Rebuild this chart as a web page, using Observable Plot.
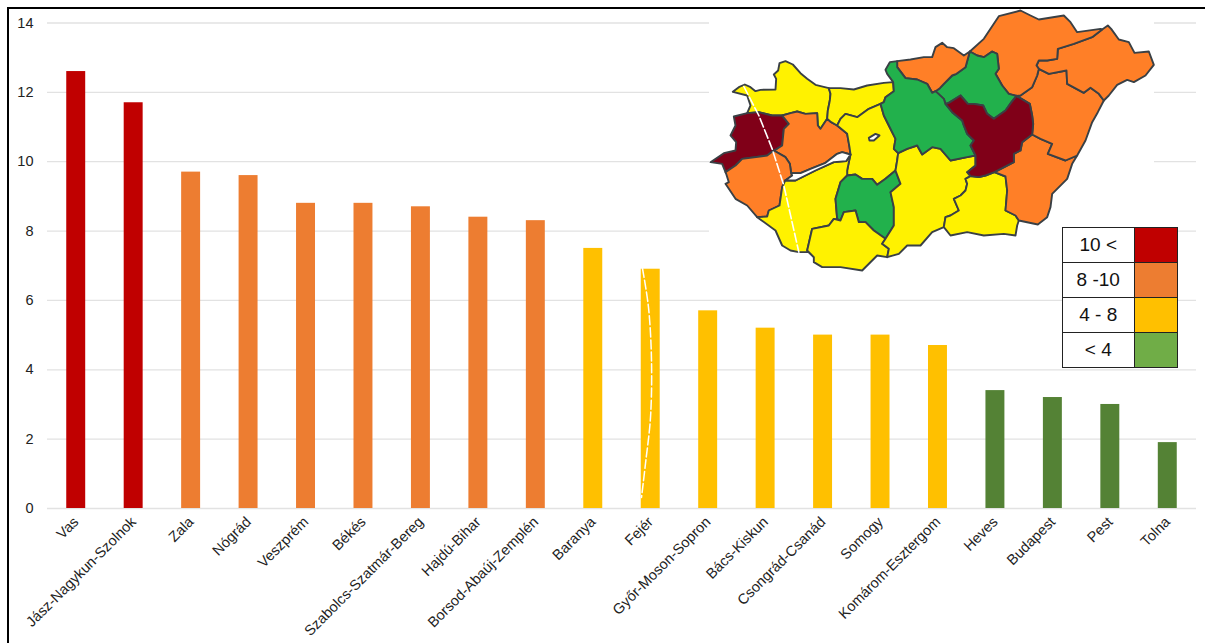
<!DOCTYPE html>
<html><head><meta charset="utf-8">
<script src="https://cdn.jsdelivr.net/npm/d3@7"></script>
<script src="https://cdn.jsdelivr.net/npm/@observablehq/plot@0.6"></script>
<style>
html,body{margin:0;padding:0;background:#fff;width:1205px;height:643px;overflow:hidden}
#wrap{position:relative;width:1205px;height:643px;font-family:"Liberation Sans",Arial,sans-serif}
#wrap>svg,#wrap>div{position:absolute}
#frame{left:7px;top:7px;width:1198px;height:636px;border-left:2px solid #000;border-top:2px solid #000;box-sizing:border-box}
#legend{left:1062px;top:227px;width:115px;height:140px;display:grid;grid-template-columns:72.5px 42.5px;grid-template-rows:repeat(4,35px);background:#fff;font-size:19px;color:#111;box-sizing:border-box}
#legend div{display:flex;align-items:center;justify-content:center;box-sizing:border-box;border:1px solid #222;margin:-.5px}
</style></head><body><div id="wrap"><div id="frame"></div></div>
<script>
const counties=["Vas","Jász-Nagykun-Szolnok","Zala","Nógrád","Veszprém","Békés","Szabolcs-Szatmár-Bereg","Hajdú-Bihar","Borsod-Abaúj-Zemplén","Baranya","Fejér","Győr-Moson-Sopron","Bács-Kiskun","Csongrád-Csanád","Somogy","Komárom-Esztergom","Heves","Budapest","Pest","Tolna"];
const rates=[12.6,11.7,9.7,9.6,8.8,8.8,8.7,8.4,8.3,7.5,6.9,5.7,5.2,5,5,4.7,3.4,3.2,3,1.9];
const barColors=["#C00000","#C00000","#ED7D31","#ED7D31","#ED7D31","#ED7D31","#ED7D31","#ED7D31","#ED7D31","#FFC000","#FFC000","#FFC000","#FFC000","#FFC000","#FFC000","#FFC000","#548235","#548235","#548235","#548235"];
const yTicks=[0,2,4,6,8,10,12,14];
const legendLabels=["10 <","8 -10","4 - 8","< 4"];
const legendColors=["#C00000","#ED7D31","#FFC000","#70AD47"];

// County borders, in map units
const borders={
gyW:[[140,338],[150,315],[140,285],[97,274]],
gyN:[[97,274],[115,260],[133,252],[150,260],[165,272],[180,268],[225,267],[227,235],[220,222],[233,210],[237,188],[255,182],[277,192],[300,218],[320,235],[345,253],[385,263]],
gyKom:[[385,263],[390,280],[388,300],[382,330],[380,355]],
gyVes:[[245,345],[270,338],[290,333],[315,340],[350,338],[352,375],[360,385],[380,355]],
gyVas:[[140,338],[175,335],[215,345],[245,345]],
vasOut:[[140,338],[100,348],[105,375],[90,405],[107,425],[105,450],[70,458],[30,485],[65,490],[75,515]],
vasZala:[[75,515],[105,495],[125,475],[200,465],[220,450]],
vasVes:[[220,450],[230,445],[245,435],[250,385],[265,370],[245,345]],
vesZala:[[220,450],[255,470],[268,490],[272,518]],
vesS:[[272,518],[300,518],[330,505],[375,487],[410,460],[425,455],[450,462]],
vesFej:[[410,375],[440,400],[447,440],[450,462]],
vesKom:[[380,355],[392,365],[410,375]],
komN:[[385,263],[420,263],[460,267],[500,255],[550,247],[578,245]],
komFej:[[410,375],[420,355],[435,340],[470,350],[505,325],[540,310]],
komPest:[[540,310],[550,305],[555,290],[580,272],[578,245]],
fejPest:[[540,310],[550,345],[565,375],[585,415],[580,445],[593,458]],
fejBac:[[593,458],[590,480],[585,510]],
fejTol:[[585,510],[555,535],[530,553],[515,535],[485,535],[465,522],[440,525]],
fejSom:[[440,525],[440,510],[445,485],[450,462]],
zalaLake:[[272,518],[275,525],[254,540]],
zalaSom:[[254,540],[245,560],[237,615],[205,630],[200,648],[170,650]],
zalaOut:[[75,515],[77,520],[85,545],[75,550],[105,595],[140,615],[170,650]],
somN:[[254,540],[285,540],[345,510],[400,485],[437,482],[450,462]],
somOut:[[170,650],[225,690],[245,735],[270,750],[295,755],[325,755],[340,770]],
somBar:[[340,770],[320,750],[335,685],[385,675],[400,655],[420,660]],
somTol:[[440,525],[420,545],[405,595],[410,655],[420,660]],
tolBac:[[585,510],[600,550],[570,575],[580,620],[580,675],[555,715]],
tolBar:[[420,660],[430,635],[465,630],[475,665],[495,665],[520,690],[555,715]],
barBac:[[555,715],[545,730],[565,745],[560,770]],
barOut:[[560,770],[530,765],[485,810],[420,800],[390,800],[365,800],[340,785],[340,770]],
pestBac:[[593,458],[620,445],[650,435],[665,462],[695,440],[720,445],[750,480],[800,470],[825,465]],
bacJas:[[825,465],[825,495],[800,515],[810,527]],
bacCso:[[810,527],[795,535],[800,550],[795,570],[780,585],[760,595],[775,630],[750,645],[735,650],[730,680]],
bacOut:[[560,770],[595,760],[620,735],[660,735],[695,695],[730,680]],
jasCso:[[810,527],[835,530],[855,525],[882,515]],
csoBek:[[882,515],[915,528],[920,570],[915,630],[945,645],[955,660]],
csoOut:[[955,660],[950,675],[945,705],[910,700],[850,705],[800,695],[750,705],[730,680]],
jasBek:[[882,515],[940,485],[940,460],[960,450],[965,425],[995,402]],
bekHaj:[[995,402],[1020,415],[1055,430],[1042,460],[1095,480],[1130,465]],
bekOut:[[1130,465],[1115,490],[1100,535],[1055,580],[1050,620],[1040,650],[1012,672],[955,660]],
hajOut:[[1130,465],[1155,420],[1175,365],[1192,335],[1210,300]],
hajSza:[[1210,300],[1195,280],[1170,262],[1150,277],[1100,250],[1098,210],[1045,220],[1015,205]],
hajBor:[[1015,205],[1010,225],[995,260],[960,285],[948,286]],
jasHaj:[[948,286],[988,310],[995,345],[998,370],[995,402]],
szaBor:[[1015,205],[1008,195],[1015,180],[1040,180],[1070,175],[1072,145],[1120,130],[1175,110],[1205,87]],
szaOut:[[1205,87],[1222,75],[1232,85],[1255,117],[1285,125],[1302,157],[1345,153],[1360,193],[1335,225],[1300,245],[1280,238],[1250,253],[1225,285],[1210,300]],
borOut:[[808,153],[850,115],[880,70],[895,47],[960,30],[990,45],[1015,57],[1090,45],[1110,65],[1130,95],[1200,85],[1205,87]],
borHev:[[948,286],[925,280],[905,255],[885,220],[895,205],[890,160],[875,153],[850,170],[830,165],[808,153]],
hevNog:[[808,153],[802,175],[795,200],[768,220],[755,225],[730,250],[718,263],[705,272]],
hevPest:[[705,272],[730,295],[735,310]],
jasHev:[[735,310],[745,307],[780,285],[802,310],[820,310],[848,315],[860,340],[880,355],[915,330],[933,305],[948,286]],
nogN:[[590,182],[630,177],[670,170],[695,170],[705,140],[725,127],[740,140],[760,143],[790,165],[808,153]],
nogPest:[[590,182],[590,200],[615,233],[650,237],[680,250],[695,277],[705,272]],
pestN:[[578,245],[560,220],[555,208],[568,185],[590,182]],
jasPest:[[735,310],[755,335],[785,360],[790,375],[800,400],[820,420],[810,435],[825,465]],
velence:[[505,412],[525,400],[537,405],[520,420],[507,420],[505,412]]
};
const R="#800018",O="#FF7F27",Y="#FFF200",G="#22B14C",W="#fff";
const regions=[
[Y,"gyN gyKom gyVes- gyVas- gyW"],
[R,"gyVas vasVes- vasZala- vasOut-"],
[O,"gyVes vesKom vesFej vesS- vesZala- vasVes"],
[O,"vasZala vesZala zalaLake zalaSom zalaOut-"],
[Y,"komN komPest- komFej- vesKom- gyKom-"],
[Y,"komFej fejPest fejBac fejTol fejSom vesFej-"],
[Y,"somN fejSom- somTol somBar- somOut- zalaSom-"],
[G,"fejTol- tolBac tolBar- somTol-"],
[Y,"somBar tolBar barBac barOut"],
[Y,"pestBac bacJas bacCso bacOut- barBac- tolBac- fejBac-"],
[Y,"jasCso csoBek csoOut bacCso-"],
[O,"jasBek bekHaj bekOut csoBek-"],
[O,"bekHaj hajOut hajSza hajBor jasHaj"],
[O,"szaBor szaOut hajSza"],
[O,"borOut szaBor- hajBor borHev"],
[G,"borHev hevNog hevPest jasHev"],
[O,"nogN hevNog nogPest-"],
[G,"pestN nogPest hevPest jasPest pestBac- fejPest- komPest"],
[R,"jasHev jasHaj jasBek- jasCso- bacJas- jasPest-"],
[W,"zalaLake- vesS somN-"],
[W,"velence"]
];
const loop=spec=>spec.split(" ").flatMap(k=>k.endsWith("-")?[...borders[k.slice(0,-1)]].reverse():borders[k]);
const mapStreak=[[130,258],[175,345],[215,445],[250,555],[295,755]];
const barStreak=[[-174,804],[-156,921],[-147,1080],[-150,1251],[-165,1389],[-177,1491]];

const chart=Plot.plot({
  width:1205,height:643,marginLeft:47,marginRight:9,marginTop:22.5,marginBottom:135,
  style:{fontFamily:"'Liberation Sans',Arial,sans-serif",fontSize:"14.5px",color:"#222",background:"transparent"},
  x:{domain:counties,paddingInner:0.67,paddingOuter:0.335,round:false,label:null,tickSize:0,tickRotate:-45,tickPadding:11},
  y:{domain:[0,14],ticks:yTicks,label:null,tickSize:0,tickPadding:14},
  marks:[
    Plot.ruleY(yTicks,{stroke:"#e2e2e2",strokeWidth:1.3}),
    Plot.barY(counties.map((n,i)=>({n,v:rates[i],c:barColors[i]})),{x:"n",y:"v",fill:"c"})
  ]
});
document.getElementById("wrap").appendChild(chart);

const overlay=Plot.plot({
  width:1205,height:643,margin:0,
  x:{type:"linear",domain:[-2100,1515],range:[0,1205],axis:null},
  y:{type:"linear",domain:[0,1929],range:[0,643],axis:null},
  marks:[
    Plot.rect([{x1:27,x2:1362,y1:30,y2:810}],{x1:"x1",x2:"x2",y1:"y1",y2:"y2",fill:"#fff"}),
    ...regions.map(([c,s])=>{const p=loop(s);return Plot.line([...p,p[0]],{x:d=>d[0],y:d=>d[1],fill:c,stroke:"#3a4045",strokeWidth:1.9,strokeLinejoin:"round"})}),
    Plot.line(mapStreak,{x:d=>d[0],y:d=>d[1],stroke:"#fff",strokeWidth:1.6,strokeDasharray:"9 3"}),
    Plot.line(barStreak,{x:d=>d[0],y:d=>d[1],stroke:"#fff",strokeWidth:1.5,strokeDasharray:"9 3",curve:"catmull-rom"})
  ]
});
overlay.style.left="0";overlay.style.top="0";overlay.style.background="transparent";
document.getElementById("wrap").appendChild(overlay);

const lg=document.createElement("div");lg.id="legend";
legendLabels.forEach((t,i)=>{
  const a=document.createElement("div");a.textContent=t;lg.appendChild(a);
  const b=document.createElement("div");b.style.background=legendColors[i];lg.appendChild(b);
});
document.getElementById("wrap").appendChild(lg);
</script></body></html>
